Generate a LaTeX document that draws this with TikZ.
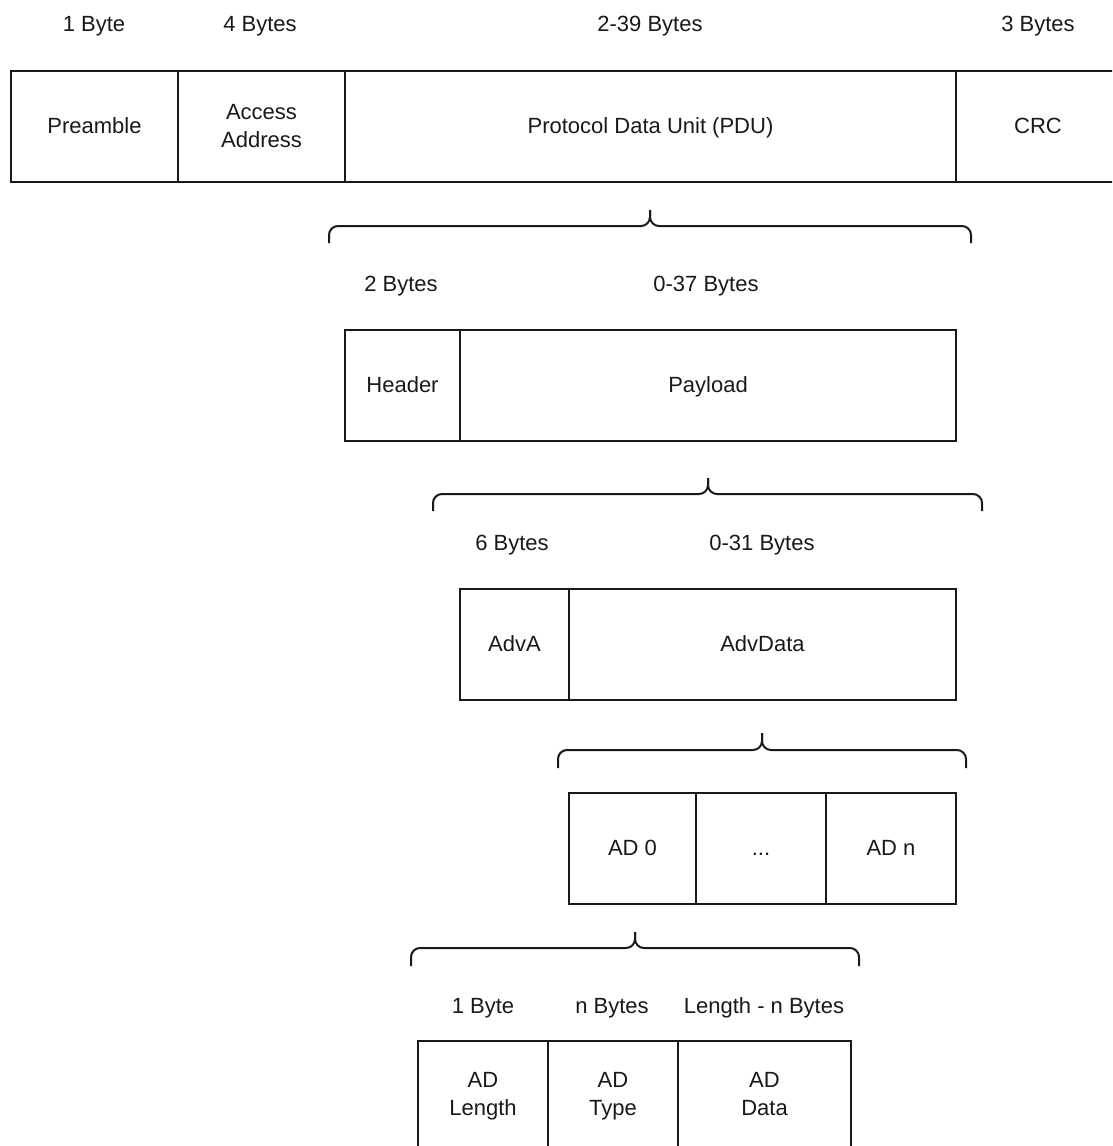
\documentclass[tikz,border=0pt]{standalone}
\usepackage{fontspec}
\setmainfont{Liberation Sans}
\begin{document}
\begin{tikzpicture}[x=1pt,y=-1pt,
  every node/.style={font=\fontsize{22}{28}\selectfont, text=black!90},
  cell/.style={draw=black!90, line width=2pt, rectangle, minimum height=111pt, inner sep=0pt, align=center},
  one/.style={text height=14pt, text depth=0pt},
  lbl/.style={inner sep=0pt, anchor=center, text height=15.8pt, text depth=0pt},
  brc/.style={draw=black!90, line width=2pt, rounded corners=9pt}]
\useasboundingbox (0,0) rectangle (1112,1146);
\clip (0,0) rectangle (1112,1146);
% row 1
\node[cell, one, minimum width=167pt] (pre) at (94.5,126.5) {Preamble};
\node[cell, minimum width=167pt] (aa) at (261.5,126.5) {Access\\Address};
\node[cell, one, minimum width=611pt] (pdu) at (650.5,126.5) {Protocol Data Unit (PDU)};
\node[cell, one, minimum width=164pt] (crc) at (1038,126.5) {CRC};
\node[lbl] (l1a) at (94,24) {1 Byte};
\node[lbl] (l1b) at (260,24) {4 Bytes};
\node[lbl] (l1c) at (650,24) {2-39 Bytes};
\node[lbl] (l1d) at (1038,24) {3 Bytes};
% brace 1
\coordinate (b1l) at (329,243); \coordinate (b1r) at (971,243);
\coordinate (b1m) at (650,226); \coordinate (b1t) at (650,210);
\draw[brc] (b1l) |- (b1m) -- (b1t);
\draw[brc] (b1r) |- (b1m) -- (b1t);
% row 2
\node[lbl] (l2a) at (401,284) {2 Bytes};
\node[lbl] (l2b) at (706,284) {0-37 Bytes};
\node[cell, one, minimum width=115pt] (hdr) at (402.5,385.5) {Header};
\node[cell, one, minimum width=496pt] (pay) at (708,385.5) {Payload};
% brace 2
\coordinate (b2l) at (433,511); \coordinate (b2r) at (982,511);
\coordinate (b2m) at (708,494); \coordinate (b2t) at (708,478);
\draw[brc] (b2l) |- (b2m) -- (b2t);
\draw[brc] (b2r) |- (b2m) -- (b2t);
% row 3
\node[lbl] (l3a) at (512,543) {6 Bytes};
\node[lbl] (l3b) at (762,543) {0-31 Bytes};
\node[cell, one, minimum width=109pt] (adva) at (514.5,644.5) {AdvA};
\node[cell, one, minimum width=387pt] (advd) at (762.5,644.5) {AdvData};
% brace 3
\coordinate (b3l) at (558,768); \coordinate (b3r) at (966,768);
\coordinate (b3m) at (762,750); \coordinate (b3t) at (762,733);
\draw[brc] (b3l) |- (b3m) -- (b3t);
\draw[brc] (b3r) |- (b3m) -- (b3t);
% row 4
\node[cell, one, minimum width=127pt] (ad0) at (632.5,848.5) {AD 0};
\node[cell, one, minimum width=130pt] (dots) at (761,848.5) {...};
\node[cell, one, minimum width=130pt] (adn) at (891,848.5) {AD n};
% brace 4
\coordinate (b4l) at (411,966); \coordinate (b4r) at (859,966);
\coordinate (b4m) at (635,948); \coordinate (b4t) at (635,932);
\draw[brc] (b4l) |- (b4m) -- (b4t);
\draw[brc] (b4r) |- (b4m) -- (b4t);
% row 5
\node[lbl] (l5a) at (483,1006) {1 Byte};
\node[lbl] (l5b) at (612,1006) {n Bytes};
\node[lbl] (l5c) at (764,1006) {Length - n Bytes};
\node[cell, minimum width=130pt] (adl) at (483,1096.5) {AD\\Length};
\node[cell, minimum width=130pt] (adt) at (613,1096.5) {AD\\Type};
\node[cell, minimum width=173pt] (add) at (764.5,1096.5) {AD\\Data\vphantom{g}};
\end{tikzpicture}
\end{document}
